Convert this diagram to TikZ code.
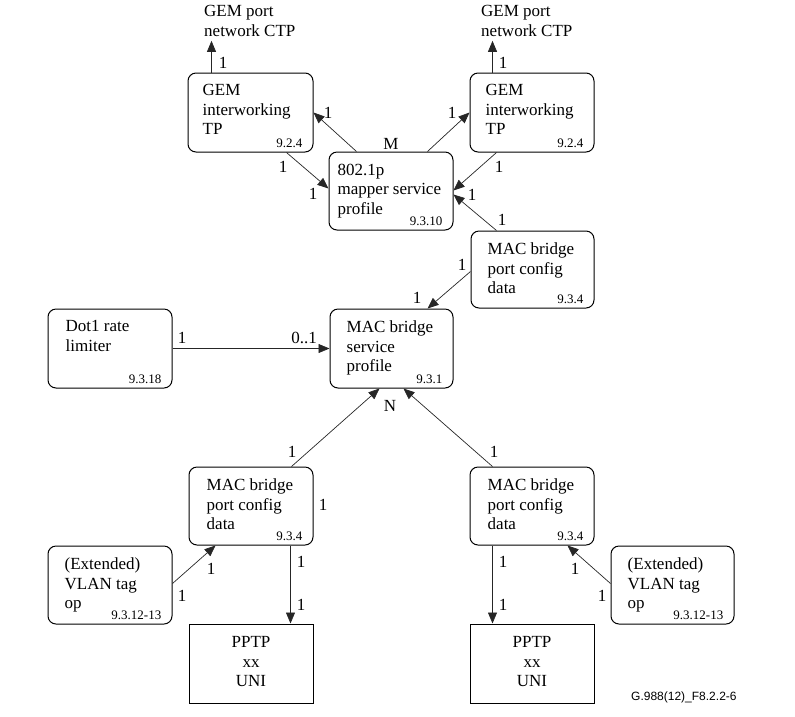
\documentclass[tikz,border=0pt]{standalone}
\usepackage{fontspec}
\setmainfont{Liberation Serif}
\newfontfamily\figsans{Liberation Sans}
\usetikzlibrary{arrows.meta,calc,fit}
\newcommand{\ombox}[8]{%
  \node[rbox, fit={(#2,#3) (#4,#5)}] (#1) {};
  \node[txt, anchor=north west] (#1-t) at ($(#1.north west)+(#6,12)$) {#7};
  \node[reftxt, anchor=base east] (#1-r) at ($(#1.south east)+(-11,-5)$) {#8};
}
\begin{document}
\begin{tikzpicture}[x=1pt,y=-1pt,
  rbox/.style={draw, line width=1pt, rounded corners=8pt, inner sep=0pt},
  sbox/.style={draw, line width=1pt, inner sep=0pt},
  txt/.style={inner sep=0pt, align=left, font=\fontsize{17}{19.5}\selectfont},
  ctxt/.style={inner sep=0pt, align=center, font=\fontsize{17}{19.5}\selectfont},
  reftxt/.style={inner sep=0pt, font=\fontsize{13}{15}\selectfont},
  lbl/.style={inner sep=0pt, font=\fontsize{17}{19}\selectfont},
  arr/.style={draw=black!85, line width=0.7pt, -{Triangle[length=11pt,width=9pt]}},
]
\useasboundingbox (0,0) rectangle (795,716);

% boxes
\ombox{gl}{188}{73}{313}{152}{15}{GEM\\interworking\\TP}{9.2.4}
\ombox{gr}{470}{73}{594}{152}{16}{GEM\\interworking\\TP}{9.2.4}
\ombox{map}{329}{152}{453}{230}{9}{802.1p\\mapper service\\profile}{9.3.10}
\ombox{mu}{471}{231}{594}{308}{17}{MAC bridge\\port config\\data}{9.3.4}
\ombox{dot}{48}{309}{172}{388}{18}{Dot1 rate\\limiter}{9.3.18}
\ombox{bsp}{330}{309}{453}{388}{17}{MAC bridge\\service\\profile}{9.3.1}
\ombox{ml}{189}{467}{313}{545}{18}{MAC bridge\\port config\\data}{9.3.4}
\ombox{vl}{48}{546}{172}{624}{17}{(Extended)\\VLAN tag\\op}{9.3.12-13}
\ombox{mr}{470}{467}{594}{545}{18}{MAC bridge\\port config\\data}{9.3.4}
\ombox{vr}{611}{546}{734}{624}{17}{(Extended)\\VLAN tag\\op}{9.3.12-13}

\node[sbox, fit={(189,624) (313,703)}] (pl) {};
\node[ctxt, anchor=north] (pl-t) at ($(pl.north)+(0,13)$) {PPTP\\xx\\UNI};
\node[sbox, fit={(470,624) (594,703)}] (pr) {};
\node[ctxt, anchor=north] (pr-t) at ($(pr.north)+(0,13)$) {PPTP\\xx\\UNI};

% GEM port network CTP targets
\node[txt, anchor=north west] (ctpl) at (204,5.5) {GEM port\\network CTP};
\node[txt, anchor=north west] (ctpr) at (481,5.5) {GEM port\\network CTP};

% connectors
\coordinate (gla) at ($(gl.north west)+(24,0)$);
\coordinate (gra) at ($(gr.north west)+(23,0)$);
\draw[arr] (gla) -- ($(gla |- ctpl.south)+(0,4)$);
\draw[arr] (gra) -- ($(gra |- ctpr.south)+(0,4)$);
\draw[arr] ($(map.north west)+(28,0)$) -- ($(gl.north east)+(0,40)$);
\draw[arr] ($(map.north east)+(-26,0)$) -- ($(gr.north west)+(0,40)$);
\draw[arr] ($(gl.south west)+(99,0)$) -- ($(map.north west)+(0,37)$);
\draw[arr] ($(gr.south west)+(27,0)$) -- ($(map.north east)+(0,39)$);
\draw[arr] ($(mu.north west)+(26,0)$) -- ($(map.north east)+(0,43)$);
\draw[arr] ($(mu.north west)+(0,41)$) -- ($(bsp.north west)+(98,0)$);
\draw[arr] ($(dot.north east)+(0,40)$) -- ($(bsp.north west)+(0,40)$);
\draw[arr] ($(ml.north west)+(103,0)$) -- ($(bsp.south west)+(50,0)$);
\draw[arr] ($(mr.north west)+(23,0)$) -- ($(bsp.south east)+(-50,0)$);
\draw[arr] ($(ml.south west)+(102,0)$) -- ($(pl.north west)+(102,0)$);
\draw[arr] ($(vl.north east)+(0,38)$) -- ($(ml.south west)+(27,0)$);
\draw[arr] ($(mr.south west)+(23,0)$) -- ($(pr.north west)+(23,0)$);
\draw[arr] ($(vr.north west)+(0,38)$) -- ($(mr.south east)+(-27,0)$);

% multiplicity labels
\node[lbl] (l1) at (223,63) {1};
\node[lbl] (l2) at (503,63) {1};
\node[lbl] (l3) at (328,113) {1};
\node[lbl] (lM) at (391,144) {M};
\node[lbl] (l4) at (452,113) {1};
\node[lbl] (l5) at (283,167) {1};
\node[lbl] (l6) at (313,194) {1};
\node[lbl] (l7) at (499,167) {1};
\node[lbl] (l8) at (472,195) {1};
\node[lbl] (l9) at (502,220) {1};
\node[lbl] (l10) at (462,265) {1};
\node[lbl] (l11) at (417,298) {1};
\node[lbl] (l12) at (182,338) {1};
\node[lbl] (l13) at (304,338) {0..1};
\node[lbl] (l14) at (292,452) {1};
\node[lbl] (lN) at (390,406) {N};
\node[lbl] (l15) at (494,452) {1};
\node[lbl] (l16) at (323,505) {1};
\node[lbl] (l17) at (301,562) {1};
\node[lbl] (l18) at (301,605) {1};
\node[lbl] (l19) at (211,569) {1};
\node[lbl] (l20) at (182,596) {1};
\node[lbl] (l21) at (503,562) {1};
\node[lbl] (l22) at (503,605) {1};
\node[lbl] (l23) at (575,569) {1};
\node[lbl] (l24) at (602,596) {1};

\node[anchor=base west, inner sep=0pt, font=\figsans\fontsize{12}{14}\selectfont] (fig) at (631,700) {G.988(12)\_F8.2.2-6};
\end{tikzpicture}
\end{document}
